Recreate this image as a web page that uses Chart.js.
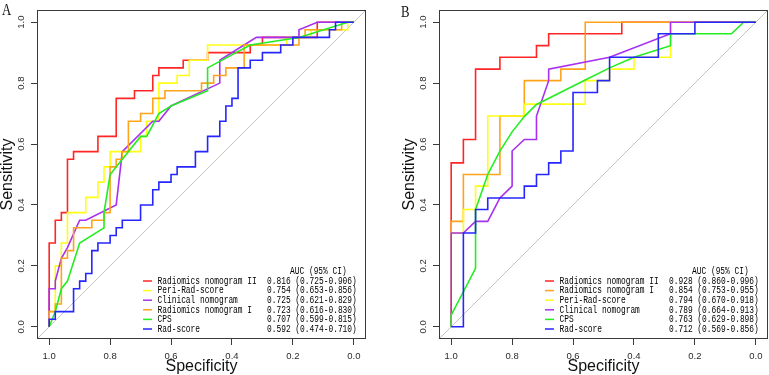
<!DOCTYPE html>
<html><head><meta charset="utf-8">
<script src="https://cdn.jsdelivr.net/npm/chart.js@4.4.1/dist/chart.umd.min.js"></script>
<style>
html,body{margin:0;padding:0;background:#fff;}
#wrap{position:relative;width:769px;height:375px;overflow:hidden;background:#fff;}
canvas{position:absolute;top:0;}
#cA{left:0;} #cB{left:384px;}
.pl{position:absolute;font-family:"Liberation Serif",serif;font-size:17px;line-height:17px;transform:scaleX(0.75);transform-origin:0 0;color:#111;}
</style></head><body>
<div id="wrap">
<canvas id="cA" width="384" height="375"></canvas>
<canvas id="cB" width="385" height="375"></canvas>
<div class="pl" style="left:1.5px;top:1px">A</div>
<div class="pl" style="left:400.5px;top:2.5px">B</div>
</div>
<script>
// ---------- axis ticks ----------
const tickValues = [0, 0.2, 0.4, 0.6, 0.8, 1.0];

// ---------- Panel A (specificity / sensitivity) ----------
const redA_spec = [1,1,0.98,0.98,0.96,0.96,0.94,0.94,0.92,0.92,0.84,0.84,0.78,0.78,0.72,0.72,0.66,0.66,0.64,0.64,0.56,0.56,0.48,0.48,0.34,0.34,0.30,0.30,0.12,0.12,0];
const redA_sens = [0,0.275,0.275,0.35,0.35,0.375,0.375,0.55,0.55,0.575,0.575,0.625,0.625,0.75,0.75,0.775,0.775,0.825,0.825,0.85,0.85,0.875,0.875,0.9,0.9,0.925,0.925,0.95,0.95,1,1];

const yellowA_spec = [1,1,0.98,0.98,0.96,0.96,0.94,0.94,0.88,0.88,0.84,0.84,0.82,0.82,0.80,0.80,0.70,0.70,0.68,0.68,0.64,0.64,0.58,0.58,0.54,0.54,0.48,0.48,0.22,0.22,0.14,0.14,0.02,0.02,0];
const yellowA_sens = [0,0.05,0.05,0.2,0.2,0.275,0.275,0.375,0.375,0.425,0.425,0.475,0.475,0.525,0.525,0.575,0.575,0.625,0.625,0.675,0.675,0.8,0.8,0.825,0.825,0.875,0.875,0.925,0.925,0.95,0.95,0.975,0.975,1,1];

const purpleA_spec = [1,1,0.98,0.98,0.96,0.94,0.90,0.88,0.78,0.76,0.66,0.64,0.60,0.44,0.44,0.32,0.18,0.18,0.12,0];
const purpleA_sens = [0,0.125,0.125,0.15,0.225,0.26,0.35,0.35,0.4,0.575,0.675,0.675,0.725,0.8,0.875,0.95,0.95,0.975,1,1];

const orangeA_spec = [1,1,0.98,0.98,0.96,0.96,0.94,0.94,0.92,0.92,0.86,0.86,0.82,0.82,0.80,0.80,0.78,0.78,0.76,0.76,0.74,0.74,0.70,0.70,0.66,0.66,0.62,0.62,0.50,0.50,0.46,0.46,0.42,0.42,0.36,0.36,0.18,0.18,0.16,0.16,0.04,0.04,0];
const orangeA_sens = [0,0.05,0.05,0.075,0.075,0.225,0.225,0.25,0.25,0.325,0.325,0.35,0.35,0.375,0.375,0.525,0.525,0.55,0.55,0.575,0.575,0.675,0.675,0.70,0.70,0.75,0.75,0.775,0.775,0.80,0.80,0.825,0.825,0.85,0.85,0.925,0.925,0.95,0.95,0.975,0.975,1,1];

const greenA_spec = [1,0.98,0.96,0.94,0.90,0.82,0.82,0.80,0.76,0.70,0.68,0.64,0.60,0.48,0.48,0.34,0.18,0.02,0];
const greenA_sens = [0,0.05,0.125,0.15,0.275,0.325,0.375,0.5,0.55,0.625,0.625,0.70,0.725,0.775,0.85,0.925,0.95,1,1];

const blueA_spec = [1,1,0.98,0.98,0.92,0.92,0.90,0.90,0.88,0.88,0.86,0.86,0.84,0.84,0.80,0.80,0.78,0.78,0.76,0.76,0.70,0.70,0.66,0.66,0.64,0.64,0.60,0.60,0.58,0.58,0.52,0.52,0.48,0.48,0.44,0.44,0.42,0.42,0.40,0.40,0.38,0.38,0.34,0.34,0.30,0.30,0.24,0.24,0.20,0.20,0.08,0.08,0.06,0.06,0];
const blueA_sens = [0,0.025,0.025,0.05,0.05,0.125,0.125,0.15,0.15,0.175,0.175,0.25,0.25,0.275,0.275,0.30,0.30,0.325,0.325,0.35,0.35,0.40,0.40,0.45,0.45,0.475,0.475,0.50,0.50,0.525,0.525,0.575,0.575,0.625,0.625,0.675,0.675,0.725,0.725,0.75,0.75,0.85,0.85,0.875,0.875,0.90,0.90,0.925,0.925,0.95,0.95,0.975,0.975,1,1];

const namesA = ['Radiomics nomogram II','Peri-Rad-score','Clinical nomogram','Radiomics nomogram I','CPS','Rad-score'];
const aucA = ['0.816 (0.725-0.906)','0.754 (0.653-0.856)','0.725 (0.621-0.829)','0.723 (0.616-0.830)','0.707 (0.599-0.815)','0.592 (0.474-0.710)'];

// ---------- Panel B ----------
const redB_spec = [1,1,0.96,0.96,0.92,0.92,0.84,0.84,0.72,0.72,0.68,0.68,0.44,0.44,0];
const redB_sens = [0,0.538,0.538,0.615,0.615,0.846,0.846,0.885,0.885,0.923,0.923,0.962,0.962,1,1];

const orangeB_spec = [1,1,0.96,0.96,0.84,0.84,0.76,0.76,0.64,0.64,0.56,0.56,0];
const orangeB_sens = [0,0.346,0.346,0.5,0.5,0.692,0.692,0.808,0.808,0.846,0.846,1,1];

const yellowB_spec = [1,1,0.96,0.96,0.92,0.92,0.88,0.88,0.76,0.76,0.56,0.56,0.48,0.48,0.40,0.40,0.28,0.28,0];
const yellowB_sens = [0,0.308,0.308,0.385,0.385,0.462,0.462,0.692,0.692,0.731,0.731,0.808,0.808,0.846,0.846,0.885,0.885,1,1];

const purpleB_spec = [1,1,0.96,0.92,0.88,0.84,0.80,0.80,0.76,0.72,0.72,0.68,0.68,0.48,0.28,0.28,0];
const purpleB_sens = [0,0.308,0.308,0.346,0.346,0.423,0.462,0.577,0.615,0.615,0.692,0.808,0.846,0.885,0.962,1,1];

const greenB_spec = [1,1,0.92,0.92,0.88,0.84,0.80,0.76,0.72,0.64,0.56,0.48,0.40,0.28,0.28,0.08,0.04,0];
const greenB_sens = [0,0.038,0.192,0.385,0.5,0.577,0.64,0.69,0.73,0.77,0.81,0.85,0.885,0.923,0.962,0.962,1,1];

const blueB_spec = [1,0.96,0.96,0.92,0.92,0.88,0.88,0.76,0.76,0.72,0.72,0.68,0.68,0.64,0.64,0.60,0.60,0.52,0.52,0.48,0.48,0.32,0.32,0.20,0.20,0];
const blueB_sens = [0,0,0.308,0.308,0.385,0.385,0.423,0.423,0.462,0.462,0.5,0.5,0.538,0.538,0.577,0.577,0.769,0.769,0.808,0.808,0.885,0.885,0.962,0.962,1,1];

const namesB = ['Radiomics nomogram II','Radiomics nomogram I','Peri-Rad-score','Clinical nomogram','CPS','Rad-score'];
const aucB = ['0.928 (0.860-0.996)','0.854 (0.753-0.955)','0.794 (0.670-0.918)','0.789 (0.664-0.913)','0.763 (0.629-0.898)','0.712 (0.569-0.856)'];

// reference diagonal (chance line) spanning full axis range
const diagX = [1.04, -0.04];
const diagY = [-0.04, 1.04];

const colorOf = {
  'Radiomics nomogram II': '#ff2626',
  'Radiomics nomogram I': '#ffa31a',
  'Peri-Rad-score': '#ffff14',
  'Clinical nomogram': '#a830f0',
  'CPS': '#22ee22',
  'Rad-score': '#2626ff'
};

function curve(spec, sens, name) {
  return {
    label: name,
    data: spec.map((s, i) => ({x: s, y: sens[i]})),
    borderColor: colorOf[name],
    borderWidth: 1.6,
    pointRadius: 0,
    showLine: true,
    fill: false,
    tension: 0
  };
}
function diagSet() {
  return {label: 'diag', data: diagX.map((s, i) => ({x: s, y: diagY[i]})), borderColor: '#c4c4c4', borderWidth: 1, pointRadius: 0, showLine: true, fill: false};
}

const boxPlugin = {
  id: 'rbox',
  afterDraw(chart) {
    const {ctx, chartArea: a} = chart;
    ctx.save();
    ctx.strokeStyle = '#3a3a3a';
    ctx.lineWidth = 1;
    const l = Math.round(a.left) + 0.5, t = Math.round(a.top) + 0.5;
    const r = Math.round(a.right) - 0.5, b = Math.round(a.bottom) - 0.5;
    ctx.strokeRect(l, t, r - l, b - t);
    ctx.restore();
  }
};

const legendPlugin = {
  id: 'aucLegend',
  afterDraw(chart, args, opts) {
    const {ctx, chartArea: a} = chart;
    const sx = 0.75;
    const txt = (s, x, y) => { ctx.save(); ctx.translate(x, y); ctx.scale(sx, 1); ctx.fillText(s, 0, 0); ctx.restore(); };
    ctx.save();
    ctx.font = '10.5px "Liberation Mono", monospace';
    ctx.fillStyle = '#000';
    ctx.textBaseline = 'middle';
    ctx.textAlign = 'left';
    txt('AUC (95% CI)', a.right - 76, a.bottom - 67.5);
    opts.names.forEach((n, i) => {
      const y = a.bottom - 58 + i * 9.6;
      ctx.strokeStyle = colorOf[n];
      ctx.lineWidth = 1.5;
      ctx.beginPath(); ctx.moveTo(a.right - 223, y); ctx.lineTo(a.right - 214, y); ctx.stroke();
      txt(n, a.right - 208.5, y);
      txt(opts.aucs[i], a.right - 99, y);
    });
    ctx.restore();
  }
};

const sansFam = '"Liberation Sans", Arial, sans-serif';

function makeChart(id, datasets, names, aucs, padLeft, padRight) {
  return new Chart(document.getElementById(id), {
    type: 'scatter',
    data: {datasets},
    options: {
      responsive: false,
      animation: false,
      devicePixelRatio: 1,
      layout: {padding: {left: padLeft, right: padRight, top: 10, bottom: 0}},
      plugins: {legend: {display: false}, tooltip: {enabled: false}, aucLegend: {names, aucs}},
      scales: {
        x: {
          type: 'linear', reverse: true, min: -0.04, max: 1.04,
          afterBuildTicks: ax => { ax.ticks = tickValues.map(v => ({value: v})); },
          afterFit: ax => { ax.height = 36; },
          grid: {display: true, drawOnChartArea: false, drawTicks: true, tickLength: 6, color: '#3a3a3a', lineWidth: 1},
          border: {display: false},
          ticks: {autoSkip: false, maxRotation: 0, minRotation: 0, padding: 6, color: '#2a2a2a', font: {family: sansFam, size: 9.5}, callback: v => Number(v).toFixed(1)},
          title: {display: true, text: 'Specificity', color: '#111', font: {family: sansFam, size: 16, lineHeight: 0.9}, padding: {top: 0, bottom: 1}}
        },
        y: {
          type: 'linear', min: -0.04, max: 1.04,
          afterBuildTicks: ax => { ax.ticks = tickValues.map(v => ({value: v})); },
          afterFit: ax => { ax.width = 37; },
          grid: {display: true, drawOnChartArea: false, drawTicks: true, tickLength: 6, color: '#3a3a3a', lineWidth: 1},
          border: {display: false},
          ticks: {autoSkip: false, minRotation: 90, maxRotation: 90, crossAlign: 'center', padding: 3.5, color: '#2a2a2a', font: {family: sansFam, size: 9.5}, callback: v => Number(v).toFixed(1)},
          title: {display: true, text: 'Sensitivity', color: '#111', font: {family: sansFam, size: 16, lineHeight: 0.9}, padding: {top: 0, bottom: 0}}
        }
      }
    },
    plugins: [boxPlugin, legendPlugin]
  });
}

// index 0 is drawn on top: reverse of legend order, diagonal at the bottom
const dsA = [
  curve(blueA_spec, blueA_sens, 'Rad-score'),
  curve(greenA_spec, greenA_sens, 'CPS'),
  curve(orangeA_spec, orangeA_sens, 'Radiomics nomogram I'),
  curve(purpleA_spec, purpleA_sens, 'Clinical nomogram'),
  curve(yellowA_spec, yellowA_sens, 'Peri-Rad-score'),
  curve(redA_spec, redA_sens, 'Radiomics nomogram II'),
  diagSet()
];
const dsB = [
  curve(blueB_spec, blueB_sens, 'Rad-score'),
  curve(greenB_spec, greenB_sens, 'CPS'),
  curve(purpleB_spec, purpleB_sens, 'Clinical nomogram'),
  curve(yellowB_spec, yellowB_sens, 'Peri-Rad-score'),
  curve(orangeB_spec, orangeB_sens, 'Radiomics nomogram I'),
  curve(redB_spec, redB_sens, 'Radiomics nomogram II'),
  diagSet()
];

makeChart('cA', dsA, namesA, aucA, 0, 18);
makeChart('cB', dsB, namesB, aucB, 18, 1);
</script>
</body></html>
